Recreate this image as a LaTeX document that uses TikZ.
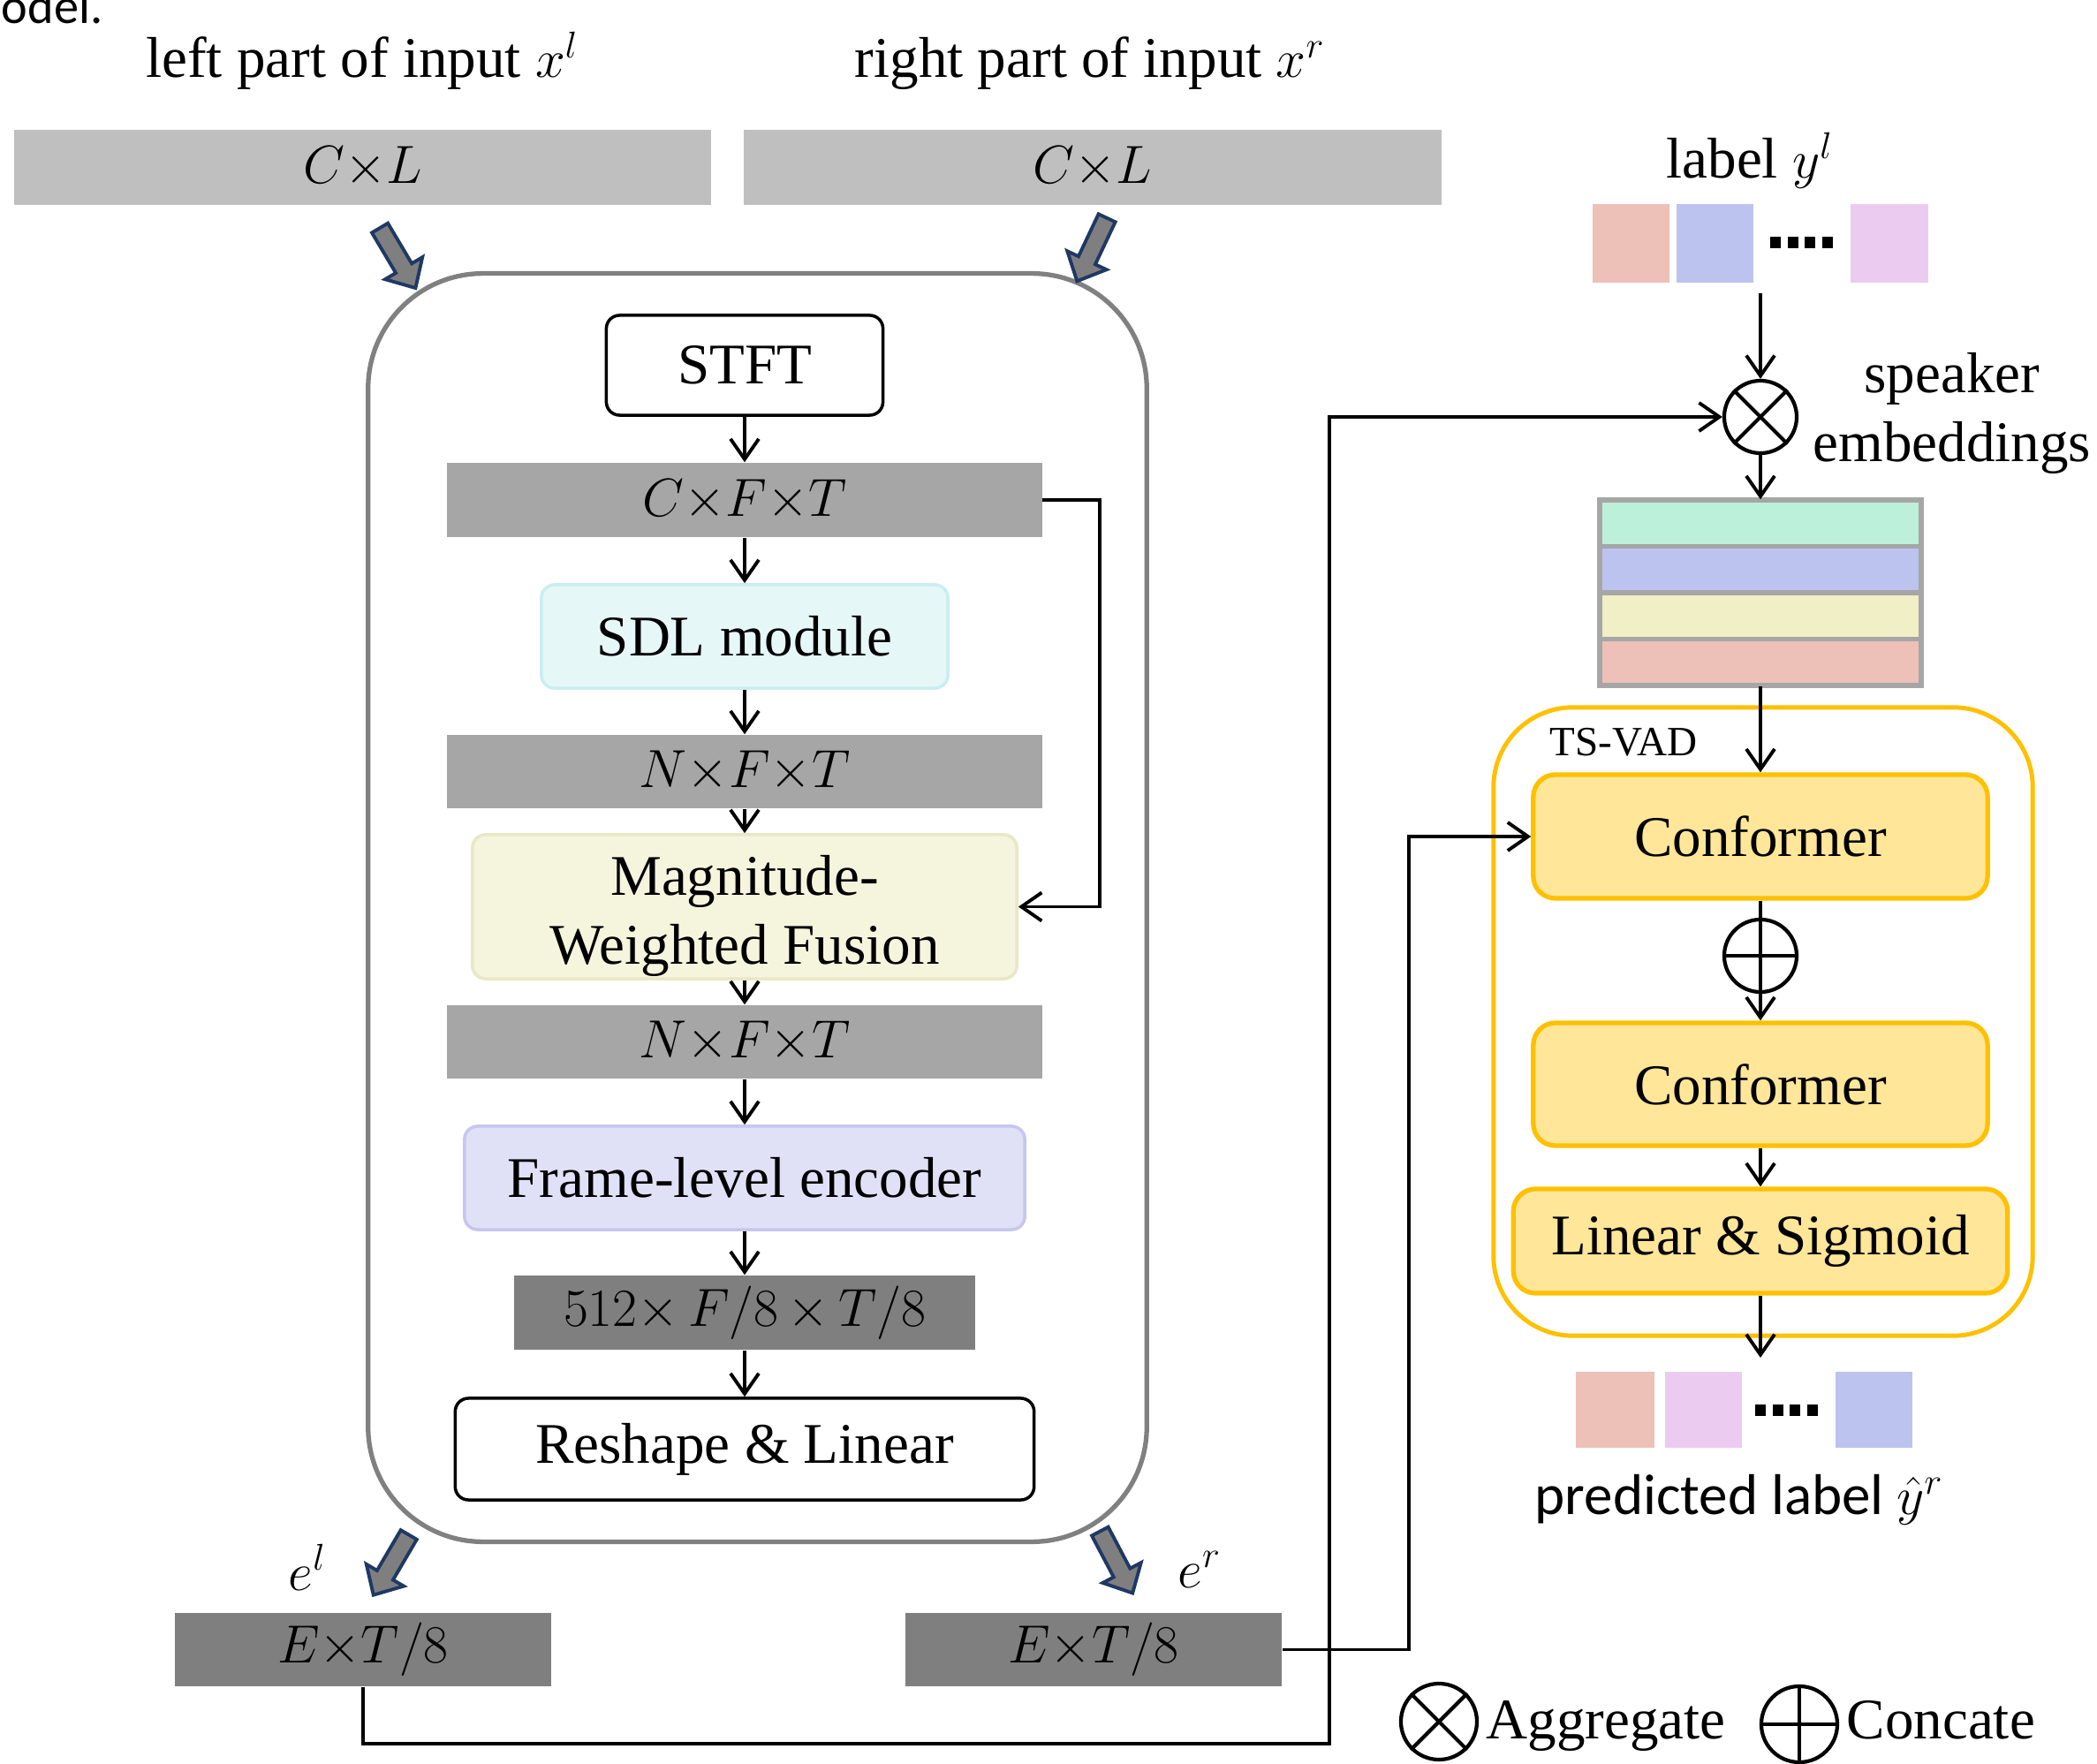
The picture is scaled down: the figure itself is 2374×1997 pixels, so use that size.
\documentclass[tikz,border=0pt]{standalone}
\usepackage{fontspec}
\setmainfont{Liberation Serif}
\newfontfamily\calib{Carlito}
\usetikzlibrary{arrows.meta,calc}
\definecolor{barA}{HTML}{BFBFBF}
\definecolor{barB}{HTML}{A6A6A6}
\definecolor{barC}{HTML}{7F7F7F}
\definecolor{encLine}{HTML}{808080}
\definecolor{sdlFill}{HTML}{E6F7F8}
\definecolor{sdlLine}{HTML}{C9EEF0}
\definecolor{mwfFill}{HTML}{F5F5DE}
\definecolor{mwfLine}{HTML}{E8E8C4}
\definecolor{fleFill}{HTML}{E0E0F7}
\definecolor{fleLine}{HTML}{C6C6F0}
\definecolor{confFill}{HTML}{FFE699}
\definecolor{confLine}{HTML}{FFC000}
\definecolor{stackLine}{HTML}{A6A6A6}
\definecolor{cGreen}{HTML}{BCF0DA}
\definecolor{cBlue}{HTML}{BBC3EE}
\definecolor{cYellow}{HTML}{F0EFC5}
\definecolor{cPink}{HTML}{EDC0B8}
\definecolor{cViolet}{HTML}{EBCBF0}
\definecolor{blkFill}{HTML}{7F7F7F}
\definecolor{blkLine}{HTML}{1F3864}
\begin{document}
\begin{tikzpicture}[x=0.01cm,y=-0.01cm,
  fs/.style={font=\fontsize{18.5}{22}\selectfont},
  arr/.style={line width=1.1pt,-{Straight Barb[length=2.3mm,width=3.2mm]}},
  txt/.style={fs,inner sep=0},
  inbar/.style={fill=barA,inner sep=0,fs},
  midbar/.style={fill=barB,inner sep=0,fs},
  darkbar/.style={fill=barC,inner sep=0,fs},
  rbox/.style={rounded corners=0.15cm,inner sep=0,fs,line width=1pt},
  conf/.style={rounded corners=0.25cm,fill=confFill,draw=confLine,line width=1.5pt,inner sep=0,fs},
  blk/.style={fill=blkFill,draw=blkLine,line width=1.1pt,line join=miter},
  sq/.style={inner sep=0,minimum width=0.87cm,minimum height=0.88cm},
  opcirc/.style={circle,draw,line width=1.2pt,minimum size=0.82cm,inner sep=0},
  opline/.style={line width=1.2pt},
]
\useasboundingbox (0,0) rectangle (2374,1997);
\begin{scope}
\clip (0,0) rectangle (2374,1997);
\node[font=\calib\fontsize{16}{19}\selectfont,anchor=base east,inner sep=0] (frag) at (117,27) {model.};
\end{scope}

% ---------- top inputs ----------
\node[txt,anchor=base] (tL) at (410,88) {left part of input $x^l$};
\node[txt,anchor=base] (tR) at (1234,88) {right part of input $x^r$};
\node[inbar,minimum width=7.89cm,minimum height=0.85cm] (inL) at (410.5,189.5) {$C{\times}L$};
\node[inbar,minimum width=7.90cm,minimum height=0.85cm] (inR) at (1237,189.5) {$C{\times}L$};

% ---------- encoder ----------
\node[draw=encLine,line width=1.5pt,rounded corners=1.3cm,minimum width=8.81cm,minimum height=14.35cm,inner sep=0] (enc) at (857.5,1027.5) {};

% block arrows
\draw[blk,shift={(450.5,292.5)},rotate=-59.3] (-0.40cm,-0.105cm) -- (0.13cm,-0.105cm) -- (0.13cm,-0.245cm) -- (0.39cm,0cm) -- (0.13cm,0.245cm) -- (0.13cm,0.105cm) -- (-0.40cm,0.105cm) -- cycle;
\draw[blk,shift={(1236,283)},rotate=-115.3] (-0.40cm,-0.105cm) -- (0.13cm,-0.105cm) -- (0.13cm,-0.245cm) -- (0.39cm,0cm) -- (0.13cm,0.245cm) -- (0.13cm,0.105cm) -- (-0.40cm,0.105cm) -- cycle;
\draw[blk,shift={(442.5,1772)},rotate=-120.4] (-0.40cm,-0.105cm) -- (0.13cm,-0.105cm) -- (0.13cm,-0.245cm) -- (0.39cm,0cm) -- (0.13cm,0.245cm) -- (0.13cm,0.105cm) -- (-0.40cm,0.105cm) -- cycle;
\draw[blk,shift={(1264,1769)},rotate=-62.2] (-0.40cm,-0.105cm) -- (0.13cm,-0.105cm) -- (0.13cm,-0.245cm) -- (0.39cm,0cm) -- (0.13cm,0.245cm) -- (0.13cm,0.105cm) -- (-0.40cm,0.105cm) -- cycle;

\node[rbox,draw=black,fill=white,minimum width=3.13cm,minimum height=1.13cm] (stft) at (843,413.5) {STFT};
\node[midbar,minimum width=6.73cm,minimum height=0.84cm] (cft) at (843,566) {$C{\times}F{\times}T$};
\node[rbox,draw=sdlLine,fill=sdlFill,minimum width=4.60cm,minimum height=1.17cm] (sdl) at (843,720.5) {SDL module};
\node[midbar,minimum width=6.73cm,minimum height=0.83cm] (nft1) at (843,873.5) {$N{\times}F{\times}T$};
\node[rbox,draw=mwfLine,fill=mwfFill,minimum width=6.16cm,minimum height=1.63cm] (mwf) at (843,1026.5) {};
\node[txt,align=center] (mwft) at (843,1037) {Magnitude-\\Weighted Fusion};
\node[midbar,minimum width=6.73cm,minimum height=0.83cm] (nft2) at (843,1179.5) {$N{\times}F{\times}T$};
\node[rbox,draw=fleLine,fill=fleFill,minimum width=6.34cm,minimum height=1.17cm] (fle) at (843,1333.5) {Frame-level encoder};
\node[darkbar,minimum width=5.21cm,minimum height=0.84cm] (b512) at (843,1486) {$512{\times}\,F/8\,{\times}\,T/8$};
\node[rbox,draw=black,fill=white,minimum width=6.55cm,minimum height=1.15cm] (rl) at (843,1640.5) {Reshape \& Linear};

\draw[arr] (stft.south) -- (cft.north);
\draw[arr] (cft.south) -- (sdl.north);
\draw[arr] (sdl.south) -- (nft1.north);
\draw[arr] (nft1.south) -- (mwf.north);
\draw[arr] (mwf.south) -- (nft2.north);
\draw[arr] (nft2.south) -- (fle.north);
\draw[arr] (fle.south) -- (b512.north);
\draw[arr] (b512.south) -- (rl.north);
\draw[arr] (cft.east) -- ++(65,0) |- (mwf.east);

% ---------- embeddings ----------
\node[txt,anchor=base] (elab) at (348,1800) {$e^l$};
\node[txt,anchor=base] (erlab) at (1358,1797) {$e^r$};
\node[darkbar,minimum width=4.26cm,minimum height=0.83cm] (eL) at (411,1867.5) {$E{\times}T/8$};
\node[darkbar,minimum width=4.26cm,minimum height=0.83cm] (eR) at (1238,1867.5) {$E{\times}T/8$};

% ---------- label y^l ----------
\node[txt,anchor=base] (lbly) at (1981,202) {label $y^l$};
\node[sq,fill=cPink] (s1) at (1846.5,275.5) {};
\node[sq,fill=cBlue] (s2) at (1941.5,275.5) {};
\node[sq,fill=cViolet] (s3) at (2139,275.5) {};
\foreach \i in {0,1,2,3} \fill (2004+19.5*\i,268) rectangle ++(12,13);
\coordinate (lblout) at (1993,332);

\node[opcirc] (agg) at (1993,472) {};
\draw[opline] (agg.north west) -- (agg.south east) (agg.north east) -- (agg.south west);
\node[txt,align=center] (spk) at (2210,468) {speaker\\embeddings};

\draw[arr] (lblout) -- (agg.north);
\draw[arr] (eL.south) |- (1505,1974) |- (agg.west);

% ---------- stack ----------
\filldraw[fill=cGreen,draw=stackLine,line width=1.7pt] (1811,566) rectangle (2175,618.5);
\filldraw[fill=cBlue,draw=stackLine,line width=1.7pt] (1811,618.5) rectangle (2175,671);
\filldraw[fill=cYellow,draw=stackLine,line width=1.7pt] (1811,671) rectangle (2175,723.5);
\filldraw[fill=cPink,draw=stackLine,line width=1.7pt] (1811,723.5) rectangle (2175,776);
\node[inner sep=0,minimum width=3.64cm,minimum height=2.10cm] (stack) at (1993,671) {};
\draw[arr] (agg.south) -- (stack.north);

% ---------- TS-VAD ----------
\node[draw=confLine,line width=1.4pt,rounded corners=0.9cm,minimum width=6.10cm,minimum height=7.11cm,inner sep=0] (tsvad) at (1996,1156.5) {};
\node[font=\fontsize{13.4}{16}\selectfont,inner sep=0,anchor=base] (tsl) at (1838,855) {TS-VAD};
\node[conf,minimum width=5.14cm,minimum height=1.40cm] (conf1) at (1993,947) {Conformer};
\node[opcirc] (cat) at (1993,1082) {};
\draw[opline] (cat.west) -- (cat.east);
\node[conf,minimum width=5.14cm,minimum height=1.39cm] (conf2) at (1993,1227.5) {Conformer};
\node[conf,minimum width=5.59cm,minimum height=1.18cm] (ls) at (1993,1405) {Linear \& Sigmoid};

\draw[arr] (stack.south) -- (conf1.north);
\draw[arr] (conf1.south) -- (conf2.north);
\draw[arr] (conf2.south) -- (ls.north);
\coordinate (predin) at (1993,1537);
\draw[arr] (ls.south) -- (predin);
\draw[arr] (eR.east) -- ++(143,0) |- (conf1.west);

% ---------- predicted ----------
\node[sq,fill=cPink,minimum width=0.89cm,minimum height=0.86cm] (p1) at (1828.5,1596) {};
\node[sq,fill=cViolet,minimum width=0.87cm,minimum height=0.86cm] (p2) at (1928.5,1596) {};
\node[sq,fill=cBlue,minimum width=0.87cm,minimum height=0.86cm] (p3) at (2121.5,1596) {};
\foreach \i in {0,1,2,3} \fill (1987+19.5*\i,1590) rectangle ++(12,13);
\node[font=\calib\fontsize{18.5}{22}\selectfont,anchor=base,inner sep=0] (predlab) at (1969,1714) {predicted label $\hat{y}^{r}$};

% ---------- legend ----------
\node[opcirc,minimum size=0.86cm] (lgA) at (1629,1949) {};
\draw[opline] (lgA.north west) -- (lgA.south east) (lgA.north east) -- (lgA.south west);
\node[txt,anchor=base west] (lgAt) at (1682,1968) {Aggregate};
\node[opcirc,minimum size=0.86cm] (lgC) at (2037,1952) {};
\draw[opline] (lgC.west) -- (lgC.east) (lgC.north) -- (lgC.south);
\node[txt,anchor=base west] (lgCt) at (2090,1968) {Concate};
\end{tikzpicture}
\end{document}
